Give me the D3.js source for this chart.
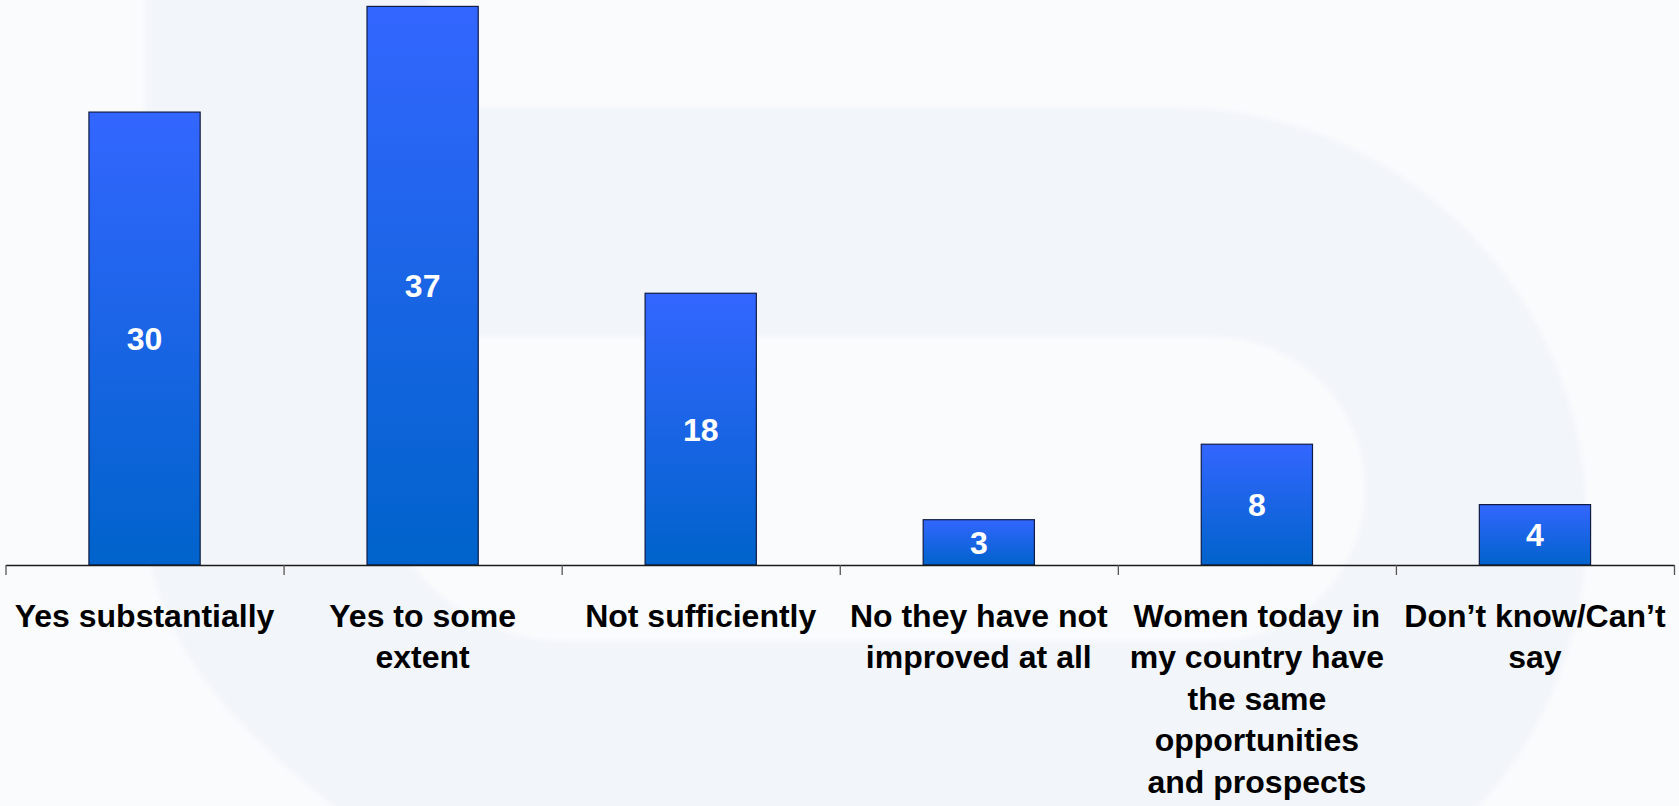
<!DOCTYPE html>
<html>
<head>
<meta charset="utf-8">
<script src="https://cdn.jsdelivr.net/npm/d3@7"></script>
<style>
  html, body { margin: 0; padding: 0; background: #fafbfd; overflow: hidden; }
  svg { display: block; }
  text { font-family: "Liberation Sans", Arial, Helvetica, sans-serif; font-weight: bold; }
</style>
</head>
<body>
<svg id="chart" width="1679" height="806"></svg>
<script>
// Survey answers and the share of respondents (%) for each
const categories = [
  "Yes substantially",
  "Yes to some\nextent",
  "Not sufficiently",
  "No they have not\nimproved at all",
  "Women today in\nmy country have\nthe same\nopportunities\nand prospects",
  "Don\u2019t know/Can\u2019t\nsay"
];
const values = [30, 37, 18, 3, 8, 4];
const valueLabels = ["30", "37", "18", "3", "8", "4"];

const W = 1679, H = 806;
const svg = d3.select("#chart");

// ---- faint watermark in the page background ----
const defs = svg.append("defs");
defs.append("filter").attr("id", "soft")
  .attr("x", "-10%").attr("y", "-10%").attr("width", "120%").attr("height", "120%")
  .append("feGaussianBlur").attr("stdDeviation", 2.5);

svg.append("rect").attr("width", W).attr("height", H).attr("fill", "#fafbfd");
const mark = svg.append("g").attr("filter", "url(#soft)");
mark.append("path")
  .attr("fill", "#f2f5fa")
  .attr("d", "M145,-10 L430,-10 L430,107 L1172,107 A415,415 0 0 1 1587,522 A415,415 0 0 1 1470,816 L345,816 C250,740 150,650 145,520 Z");
mark.append("path")
  .attr("fill", "#fafbfd")
  .attr("d", "M375,362 Q375,337 400,337 L1213,337 A152,152 0 0 1 1365,489 A152,152 0 0 1 1213,641 L565,641 A190,190 0 0 1 375,451 Z");

// ---- scales ----
const margin = { left: 5.5, right: 5, base: 565, top: 6.4 };
const x = d3.scaleBand()
  .domain(categories)
  .range([margin.left, W - margin.right])
  .paddingInner(0).paddingOuter(0);
const y = d3.scaleLinear().domain([0, 37]).range([margin.base, margin.top]);
const barW = x.bandwidth() * 0.4;

// bar fill: bright blue at the top fading to a deeper blue at the base
const grad = defs.append("linearGradient").attr("id", "barFill")
  .attr("x1", 0).attr("y1", 0).attr("x2", 0).attr("y2", 1);
grad.append("stop").attr("offset", "0%").attr("stop-color", "#3366ff");
grad.append("stop").attr("offset", "100%").attr("stop-color", "#0063cb");

const data = categories.map((c, i) => ({ c, v: values[i], label: valueLabels[i] }));

// ---- bars ----
svg.append("g").selectAll("rect").data(data).join("rect")
  .attr("x", d => x(d.c) + (x.bandwidth() - barW) / 2)
  .attr("y", d => y(d.v))
  .attr("width", barW)
  .attr("height", d => y(0) - y(d.v))
  .attr("fill", "url(#barFill)")
  .attr("stroke", "#101c46")
  .attr("stroke-width", 1.2);

// ---- value labels inside the bars ----
svg.append("g").selectAll("text").data(data).join("text")
  .attr("x", d => x(d.c) + x.bandwidth() / 2)
  .attr("y", d => (y(d.v) + y(0)) / 2)
  .attr("dy", "0.36em")
  .attr("text-anchor", "middle")
  .attr("fill", "#ffffff")
  .style("font-size", "32px")
  .text(d => d.label);

// ---- category axis: baseline with ticks between categories ----
const edges = d3.scaleLinear().domain([0, categories.length]).range(x.range());
const axis = svg.append("g")
  .attr("transform", `translate(0,${y(0)})`)
  .call(d3.axisBottom(edges).tickValues(d3.range(categories.length + 1)).tickSize(10).tickSizeOuter(0).tickFormat(""));
axis.select(".domain").attr("stroke", "#1a1a1a").attr("stroke-width", 1.5);
axis.selectAll(".tick line").attr("stroke", "#555").attr("stroke-width", 1.3);

// ---- multi-line category labels ----
const lineH = 41.6;
const labels = svg.append("g").selectAll("text").data(data).join("text")
  .attr("text-anchor", "middle")
  .attr("fill", "#000")
  .style("font-size", "32px");
labels.each(function (d) {
  const t = d3.select(this);
  d.c.split("\n").forEach((line, k) => {
    t.append("tspan")
      .attr("x", x(d.c) + x.bandwidth() / 2)
      .attr("y", 626.5 + k * lineH)
      .text(line);
  });
});
</script>
</body>
</html>
